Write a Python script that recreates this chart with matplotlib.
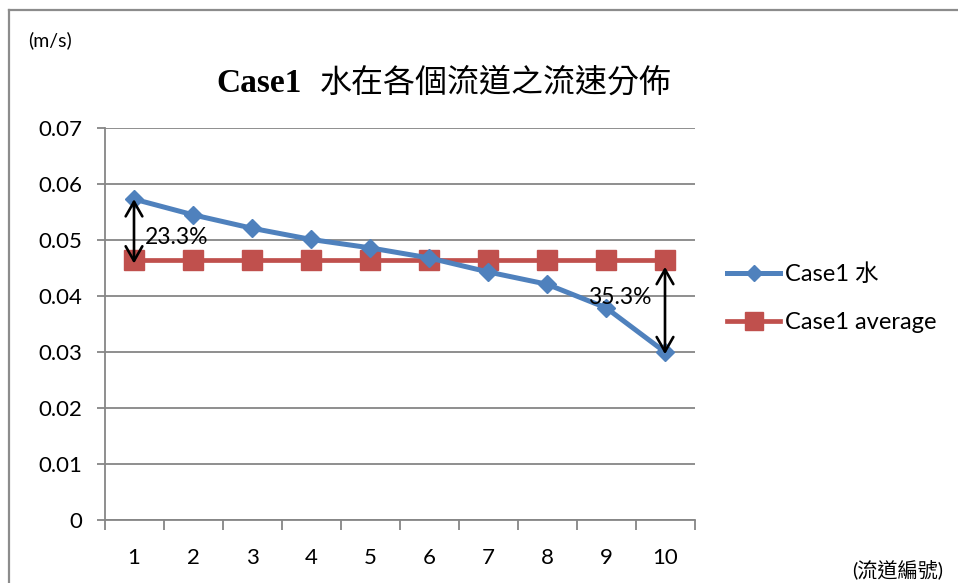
import matplotlib
matplotlib.use("Agg")
import matplotlib.pyplot as plt
from matplotlib.lines import Line2D
import numpy as np

# ---- data ----
channels = [1, 2, 3, 4, 5, 6, 7, 8, 9, 10]
tick_labels = ["1", "2", "3", "4", "5", "6", "7", "8", "9", "10"]
case1_water = [0.0573, 0.0545, 0.0521, 0.0501, 0.0486, 0.0468, 0.0443, 0.0421, 0.0379, 0.0300]
case1_avg = [0.0464] * 10
y_ticks = [0, 0.01, 0.02, 0.03, 0.04, 0.05, 0.06, 0.07]
y_tick_labels = ["0", "0.01", "0.02", "0.03", "0.04", "0.05", "0.06", "0.07"]
title_latin = "Case1"
title_cjk = "水在各個流道之流速分佈"
series_names = ["Case1 水", "Case1 average"]
pct_labels = ["23.3%", "35.3%"]

W, H = 958, 583
fig = plt.figure(figsize=(W / 100, H / 100), dpi=100)
SANS = ["Lato", "Noto Sans CJK TC", "DejaVu Sans"]
plt.rcParams["font.family"] = SANS

def fx(px):
    return px / W

def fy(py):
    return 1 - py / H

ax = fig.add_axes([fx(104.5), fy(520), fx(694.5) - fx(104.5), fy(128) - fy(520)])
grid_c = "#868686"
BLUE = "#4F81BD"
RED = "#C0504D"

ax.set_xlim(0.5, 10.5)
ax.set_ylim(0, 0.07)
ax.set_yticks(y_ticks)
ax.set_yticklabels(y_tick_labels, fontsize=16)
ax.set_xticks(channels)
ax.set_xticklabels(tick_labels, fontsize=16)
ax.set_xticks(np.arange(0.5, 11, 1.0), minor=True)
ax.tick_params(axis="x", which="major", length=0, pad=20)
ax.tick_params(axis="x", which="minor", length=7, width=1.3, color=grid_c, direction="out")
ax.tick_params(axis="y", which="major", length=6, width=1.3, color=grid_c, pad=10)
for s in ["top", "right"]:
    ax.spines[s].set_visible(False)
for s in ["left", "bottom"]:
    ax.spines[s].set_color(grid_c)
    ax.spines[s].set_linewidth(1.3)
ax.yaxis.grid(True, color=grid_c, linewidth=1.3)
ax.set_axisbelow(True)

l1, = ax.plot(channels, case1_water, color=BLUE, linewidth=3.6, marker="D",
              markersize=9.5, markerfacecolor=BLUE, markeredgecolor=BLUE,
              label=series_names[0], zorder=3)
l2, = ax.plot(channels, case1_avg, color=RED, linewidth=3.4, marker="s",
              markersize=14.5, markerfacecolor=RED, markeredgecolor=RED,
              label=series_names[1], zorder=2)

# double-headed arrows
arrow_kw = dict(arrowstyle="<->,head_length=1.05,head_width=0.6", color="black", lw=1.9,
                shrinkA=0, shrinkB=0)
ax.annotate("", xy=(channels[0], case1_water[0]), xytext=(channels[0], case1_avg[0] - 0.0006),
            arrowprops=arrow_kw, zorder=5)
ax.annotate("", xy=(channels[-1], case1_water[-1] - 0.0004), xytext=(channels[-1], case1_avg[-1] - 0.0012),
            arrowprops=arrow_kw, zorder=5)
ax.text(1.186, 0.0505, pct_labels[0], fontsize=16.5, ha="left", va="center", zorder=6)
ax.text(8.695, 0.0398, pct_labels[1], fontsize=16.5, ha="left", va="center", zorder=6)

# legend
fig.legend(handles=[l1, l2], labels=series_names, loc="center left",
           bbox_to_anchor=(fx(727), fy(298)), frameon=False, fontsize=17,
           handlelength=2.25, handletextpad=0.2, labelspacing=1.15,
           borderpad=0, borderaxespad=0, markerscale=0.85)

# title: bold serif latin + regular CJK, centred together
renderer = fig.canvas.get_renderer()
t1 = fig.text(0, fy(83), title_latin, fontsize=24, fontweight="bold", ha="left", va="center",
              family=["Liberation Serif"])
t2 = fig.text(0, fy(83), title_cjk, fontsize=23, ha="left", va="center",
              family=["Noto Sans CJK TC"])
w1 = t1.get_window_extent(renderer).width
w2 = t2.get_window_extent(renderer).width
gap = 18
total = w1 + gap + w2
x0 = 444 - total / 2
t1.set_x(fx(x0))
t2.set_x(fx(x0 + w1 + gap))

fig.text(fx(28), fy(40), "(m/s)", fontsize=14, ha="left", va="center")
fig.text(fx(943), fy(570), "(流道編號)", fontsize=14.5, ha="right", va="center")

# outer border (left & top visible)
fig.add_artist(Line2D([fx(9), fx(9)], [0, fy(10)], color="#8c8c8c", linewidth=1.6))
fig.add_artist(Line2D([fx(9), 1], [fy(10), fy(10)], color="#8c8c8c", linewidth=1.6))

fig.savefig("out.png", dpi=100)
